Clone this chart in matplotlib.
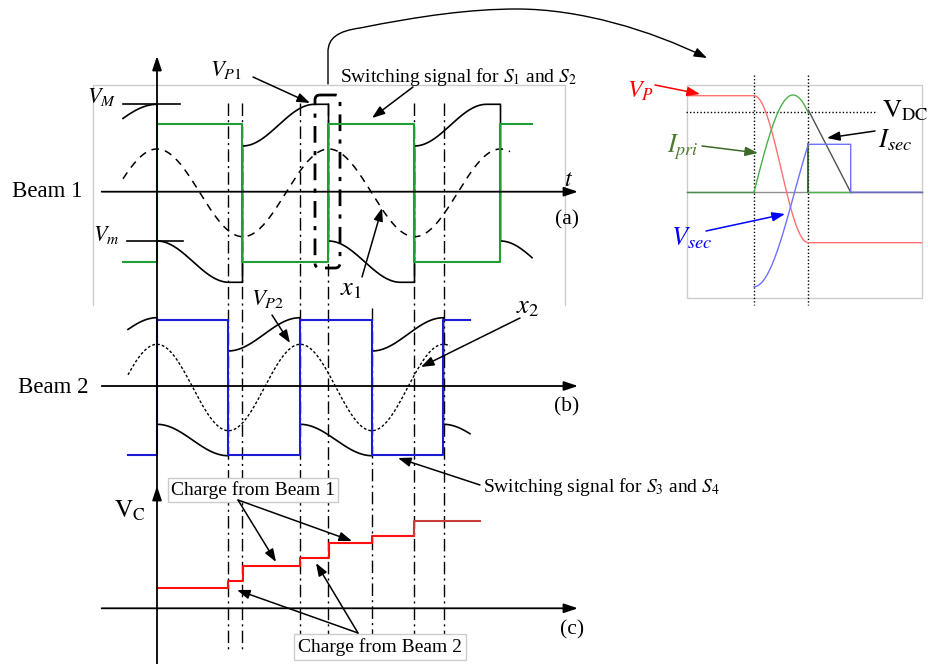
import numpy as np
import matplotlib.pyplot as plt
from matplotlib.patches import FancyBboxPatch, FancyArrowPatch, Rectangle
from matplotlib.path import Path

plt.rcParams['font.family'] = ['Liberation Serif', 'DejaVu Serif']
plt.rcParams['mathtext.fontset'] = 'stix'

# ---- panel (a): beam 1 (page pixel coordinates, y grows downward) ----
b1_switch = [157, 242.5, 328.5, 414.5, 500.5]   # switching instants of S1/S2
b1_sq_levels = [262, 124]                        # low, high
b1_sq_span = [123, 532]
b1_x1_span = [123, 510]
b1_x1_levels = [149, 236.7]                      # peak, trough of x1
b1_upper = [104.3, 146]                          # V_M, restart level
b1_lower = [241, 282.3]                          # V_m, bottom level
b1_curve_span = [123, 532]
b1_ramp = 72

# ---- panel (b): beam 2 ----
b2_switch = [157, 228, 300, 372, 443.5]
b2_sq_levels = [455, 320]
b2_sq_span = [128, 470]
b2_x2_span = [128, 450]
b2_x2_levels = [344.3, 430.7]
b2_upper = [317.7, 351]
b2_lower = [424.3, 455.7]
b2_curve_span = [128, 470]

# ---- panel (c): capacitor voltage staircase ----
vc_edges = [157, 228.3, 243, 300, 329.3, 372.3, 414.3, 480]
vc_levels = [587.7, 581, 565.7, 558.3, 543.3, 536, 520.7]

# dash-dot time markers
marker_x = [228, 242.5, 300, 328.5, 372, 414.5, 444]
marker_top = [103, 103, 103, 103, 308, 103, 103]

# ---- inset: one switching event ----
ins_t = [687.3, 754, 808.3, 850.7, 921.7]   # start, on, off, current end, end
ins_zero = 192.3
ins_vp = [95.7, 242.7]
ins_ipri_peak = [793, 95]
ins_vsec = [286.7, 144.3]
ins_isec = [110, 192.3]
ins_vdc = 112.3


def ramp(x, x0, x1, y0, y1):
    s = np.clip((x - x0) / (x1 - x0), 0, 1)
    return y0 + (y1 - y0) * (1 - np.cos(np.pi * s)) / 2


def square(span, switch, levels):
    xs, ys, st = [span[0]], [levels[0]], 0
    for s in switch:
        xs += [s, s]
        ys += [levels[st], levels[1 - st]]
        st = 1 - st
    xs.append(span[1])
    ys.append(levels[st])
    return xs, ys


def envelope(switch, span, upper, lower, rmp):
    half = (switch[-1] - switch[0]) / (len(switch) - 1)
    bounds = [switch[0] - half] + list(switch) + [switch[-1] + half]
    xs, ys = [], []
    for i in range(len(bounds) - 1):
        a, b = bounds[i], bounds[i + 1]
        r = (b - a) if (i == 0 or rmp is None) else rmp
        x = np.linspace(max(a, span[0]), min(b, span[1]), 80)
        if i % 2 == 0:
            y = ramp(x, a, a + r, upper[1], upper[0])
        else:
            y = ramp(x, a, a + r, lower[0], lower[1])
        xs.append(x)
        ys.append(y)
    return np.concatenate(xs), np.concatenate(ys)


def wave(switch, span, levels):
    half = (switch[-1] - switch[0]) / (len(switch) - 1)
    x = np.linspace(span[0], span[1], 400)
    c, a = (levels[0] + levels[1]) / 2, (levels[1] - levels[0]) / 2
    return x, c - a * np.cos(np.pi * (x - switch[0]) / half)


def arrow(ax, x0, y0, x1, y1, color='k', lw=1.1):
    ax.annotate('', xy=(x1, y1), xytext=(x0, y0),
                arrowprops=dict(arrowstyle='-|>,head_length=0.55,head_width=0.2',
                                color=color, lw=lw, shrinkA=0, shrinkB=0,
                                mutation_scale=14))


fig = plt.figure(figsize=(9.29, 6.64), dpi=100)
ax = fig.add_axes([0, 0, 1, 1])
ax.set_xlim(0, 929)
ax.set_ylim(664, 0)
ax.axis('off')

green = '#1f9e35'
blue = '#1c1cd6'
frame = '#cccccc'

# frame around panel (a)
ax.plot([93, 93, 565, 565], [305, 85, 85, 305], color=frame, lw=1)

# dash-dot markers
for x, top in zip(marker_x, marker_top):
    ax.plot([x, x], [top, 652], color='k', lw=1.0, ls=(0, (9, 3, 1.5, 3)))

# axes
ax.annotate('', xy=(157, 56), xytext=(157, 664),
            arrowprops=dict(arrowstyle='-|>,head_length=0.6,head_width=0.2',
                            color='k', lw=1.3, shrinkA=0, shrinkB=0, mutation_scale=14))
ax.annotate('', xy=(157, 486), xytext=(157, 500),
            arrowprops=dict(arrowstyle='-|>,head_length=0.6,head_width=0.2',
                            color='k', lw=1.3, shrinkA=0, shrinkB=0, mutation_scale=14))
for y in [191.7, 386, 608.3]:
    ax.annotate('', xy=(578, y), xytext=(101.7, y),
                arrowprops=dict(arrowstyle='-|>,head_length=0.6,head_width=0.2',
                                color='k', lw=1.3, shrinkA=0, shrinkB=0, mutation_scale=14))

# ---- panel (a) ----
x, y = wave(b1_switch, b1_x1_span, b1_x1_levels)
ax.plot(x, y, color='k', lw=1.1, dashes=(5, 4))
x, y = envelope(b1_switch, b1_curve_span, b1_upper, b1_lower, b1_ramp)
ax.plot(x, y, color='k', lw=1.2)
xs, ys = square(b1_sq_span, b1_switch, b1_sq_levels)
ax.plot(xs, ys, color=green, lw=1.5)
ax.plot([123, 180], [b1_upper[0]] * 2, color='k', lw=1.2)
ax.plot([127, 183], [b1_lower[0]] * 2, color='k', lw=1.2)
ax.add_patch(FancyBboxPatch((315, 95), 25, 173, boxstyle='round,pad=0,rounding_size=5',
                            fill=False, lw=2.0, ls=(0, (6, 3, 1.5, 3)), ec='k'))

# ---- panel (b) ----
x, y = wave(b2_switch, b2_x2_span, b2_x2_levels)
ax.plot(x, y, color='k', lw=1.0, dashes=(2, 1.5))
x, y = envelope(b2_switch, b2_curve_span, b2_upper, b2_lower, None)
ax.plot(x, y, color='k', lw=1.2)
xs, ys = square(b2_sq_span, b2_switch, b2_sq_levels)
ax.plot(xs, ys, color=blue, lw=1.5)

# ---- panel (c) ----
xs, ys = [], []
for i, lv in enumerate(vc_levels):
    xs += [vc_edges[i], vc_edges[i + 1]]
    ys += [lv, lv]
ax.plot(xs[:-2], ys[:-2], color='#ff1010', lw=1.5)
ax.plot(xs[-3:], ys[-3:], color='#c83c3c', lw=1.5)

# ---- big curved arrow to the inset ----
verts = [(328, 84), (328, 52), (328, 38), (338, 31), (360, 28),
         (420, 16), (470, 9), (517, 9), (580, 9), (650, 30), (707, 58)]
codes = [Path.MOVETO, Path.LINETO] + [Path.CURVE4] * 9
ax.add_patch(FancyArrowPatch(path=Path(verts, codes),
                             arrowstyle='-|>,head_length=0.55,head_width=0.2',
                             mutation_scale=14, lw=1.0, color='k'))

# ---- inset ----
ax.add_patch(Rectangle((ins_t[0], 85), ins_t[4] - ins_t[0], 213.3, fill=False, ec=frame, lw=1))
ax.plot([ins_t[0], ins_t[4]], [ins_zero] * 2, color='#909090', lw=1.0)
ax.plot([ins_t[0], ins_t[1]], [ins_zero] * 2, color='#4f8a4f', lw=1.0)
for x in ins_t[1:3]:
    ax.plot([x, x], [75, 305], color='k', lw=1.0, ls=(0, (1, 1.5)))
ax.plot([686, 876.7], [ins_vdc] * 2, color='k', lw=1.0, ls=(0, (1, 1.5)))

xr = np.linspace(ins_t[1], ins_t[2], 80)
ax.plot([ins_t[0]] + list(xr) + [ins_t[4]],
        [ins_vp[0]] + list(ramp(xr, ins_t[1], ins_t[2], ins_vp[0], ins_vp[1])) + [ins_vp[1]],
        color='#ff7070', lw=1.0)
amp = ins_zero - ins_ipri_peak[1]
yg = ins_zero - amp * np.sin(np.pi / 2 * (xr - ins_t[1]) / (ins_ipri_peak[0] - ins_t[1]))
ax.plot(xr, yg, color='#4cb04c', lw=1.0)
ax.plot([ins_t[2], ins_t[2]], [ins_vsec[1], ins_zero], color='#1f5a1f', lw=1.2)
ax.plot([ins_t[2], ins_t[3]], [ins_zero] * 2, color='#4cb04c', lw=1.0)
ax.plot([ins_t[2], ins_t[3]], ins_isec, color='#505050', lw=1.0)
th = np.arccos((ins_vsec[1] - ins_zero) / (ins_vsec[0] - ins_zero))
yb = ins_zero + (ins_vsec[0] - ins_zero) * np.cos(th * (xr - ins_t[1]) / (ins_t[2] - ins_t[1]))
ax.plot(list(xr) + [ins_t[3], ins_t[3], ins_t[4]],
        list(yb) + [ins_vsec[1], ins_zero, ins_zero], color='#7070ff', lw=1.0)
ax.plot([ins_t[3], ins_t[4]], [ins_zero] * 2, color='#6a6ab4', lw=1.0)

# ---- text ----
ax.text(12, 197, 'Beam 1', fontsize=16.5, va='baseline')
ax.text(18, 393, 'Beam 2', fontsize=16.5, va='baseline')
ax.text(87, 103, r'$V_M$', fontsize=16, va='baseline')
ax.text(93, 241, r'$V_m$', fontsize=16, va='baseline')
ax.text(210, 76, r'$V_{P\mathit{1}}$', fontsize=16.5, va='baseline')
ax.text(564, 186, r'$t$', fontsize=17, va='baseline')
ax.text(567, 220, '(a)', fontsize=15.5, ha='center', va='center')
ax.text(567, 407, '(b)', fontsize=15.5, ha='center', va='center')
ax.text(572, 630, '(c)', fontsize=15.5, ha='center', va='center')
ax.text(340, 82, r'Switching signal for $S_{\mathit{1}}$ and $S_{\mathit{2}}$', fontsize=14, va='baseline')
ax.text(340, 295, r'$x_{\mathit{1}}$', fontsize=19, va='baseline')
ax.text(251, 305, r'$V_{P\mathit{2}}$', fontsize=16.5, va='baseline')
ax.text(516, 313, r'$x_{\mathit{2}}$', fontsize=19, va='baseline')
ax.text(483, 492, r'Switching signal for $S_{\mathit{3}}$ and $S_{\mathit{4}}$', fontsize=14, va='baseline')
ax.text(114, 518, r'$\mathrm{V}_{\mathrm{C}}$', fontsize=18, va='baseline')
ax.text(253, 490, 'Charge from Beam 1', fontsize=14, ha='center', va='center',
        bbox=dict(boxstyle='square,pad=0.15', fc='white', ec=frame, lw=1))
ax.text(380, 647, 'Charge from Beam 2', fontsize=14, ha='center', va='center',
        bbox=dict(boxstyle='square,pad=0.2', fc='white', ec=frame, lw=1))

ax.text(627, 98, r'$V_P$', fontsize=17.5, color='#ff0000', va='baseline')
ax.text(882, 117, r'$\mathrm{V}_{\mathrm{DC}}$', fontsize=19, va='baseline')
ax.text(667, 152, r'$I_{pri}$', fontsize=18.5, color='#4d7a2e', va='baseline')
ax.text(878, 147, r'$I_{sec}$', fontsize=19, va='baseline')
ax.text(671, 245, r'$V_{sec}$', fontsize=19, color='#0000ff', va='baseline')

# ---- pointer arrows ----
arrow(ax, 253, 77, 310, 103)
arrow(ax, 413, 87, 372, 118)
arrow(ax, 362, 277, 382, 208)
arrow(ax, 272, 315, 290, 343)
arrow(ax, 520, 318, 421, 367)
arrow(ax, 480, 485, 398, 458)
arrow(ax, 238, 500, 276, 562)
arrow(ax, 238, 500, 352, 541)
arrow(ax, 358, 633, 237, 590)
arrow(ax, 358, 633, 316, 563)
arrow(ax, 655, 85, 700, 94, color='#ff0000')
arrow(ax, 702, 146, 758, 153, color='#3d6a2a')
arrow(ax, 875, 131, 827, 138)
arrow(ax, 706, 231, 785, 214, color='#0000ff')

fig.savefig('out.png', dpi=100)
